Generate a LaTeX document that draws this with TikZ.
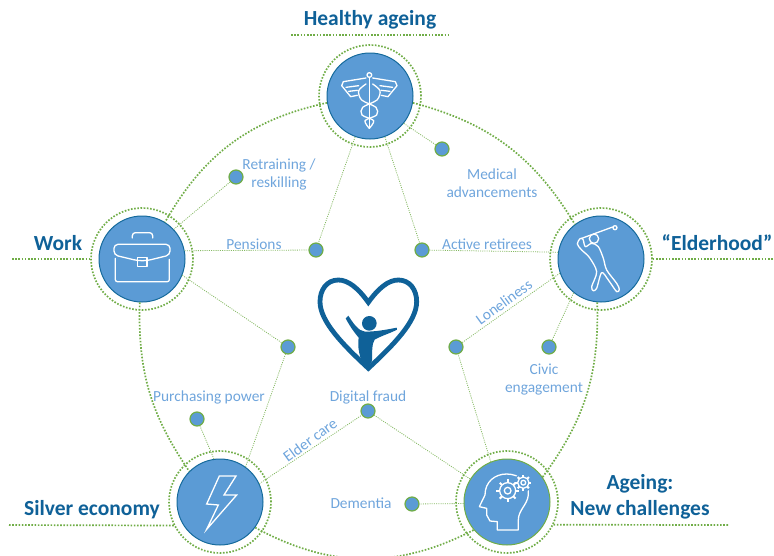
\documentclass[tikz,border=0pt]{standalone}
\usepackage{fontspec}
\setmainfont{Carlito}
\usetikzlibrary{positioning,calc}
\definecolor{hubblue}{HTML}{5B9BD5}
\definecolor{hubedge}{HTML}{156A9C}
\definecolor{leafgreen}{HTML}{70AD47}
\definecolor{paleblue}{HTML}{6FA5DC}
\definecolor{titleblue}{HTML}{0F6198}
\begin{document}
\begin{tikzpicture}[x=1pt,y=-1pt,
    hub/.style={circle,fill=hubblue,draw=hubedge,line width=1pt,minimum size=86pt,inner sep=0pt},
    ring/.style={circle,draw=leafgreen,line width=1.7pt,dash pattern=on 1.6pt off 1.6pt,minimum size=102pt,inner sep=0pt},
    dot/.style={circle,fill=hubblue,draw=leafgreen,line width=1.2pt,minimum size=14pt,inner sep=0pt},
    thinlink/.style={draw=leafgreen!85,line width=0.8pt,dash pattern=on 1pt off 1.2pt},
    arclink/.style={draw=leafgreen,line width=1.7pt,dash pattern=on 1.6pt off 1.6pt},
    topic/.style={font=\fontsize{21.5}{26}\selectfont\bfseries,text=titleblue,align=center,inner sep=0pt},
    leaf/.style={font=\fontsize{15.4}{18}\selectfont,text=paleblue,align=center,inner sep=0pt},
    icon/.style={draw=white,line width=1.3pt,line join=round,line cap=round}]
  \useasboundingbox (0,0) rectangle (774,555);%
  \clip (0,0) rectangle (774,555);%
  % hubs
  \node[hub] (health) at (370,96) {};%
  \node[hub] (work) at (142,259) {};%
  \node[hub] (elder) at (601,259) {};%
  \node[hub] (silver) at (220,502) {};%
  \node[hub,draw=leafgreen] (ageing) at (507,502) {};%
  \foreach \hubname in {health,work,elder,silver,ageing}
    \node[ring] (\hubname ring) at (\hubname) {};%
  % small dots
  \node[dot] (retrain) at (236,177) {};%
  \node[dot] (pension) at (316,250) {};%
  \node[dot] (medical) at (442,149) {};%
  \node[dot] (active) at (422,250) {};%
  \node[dot] (lonely) at (456,347) {};%
  \node[dot] (civic) at (549,347) {};%
  \node[dot] (purchase) at (288,347) {};%
  \node[dot] (power) at (197,419) {};%
  \node[dot] (fraud) at (368,411) {};%
  \node[dot] (dementia) at (412,504) {};%
  % big arcs
  \draw[arclink] (health.189) to[bend right=24] (work.58);%
  \draw[arclink] (health.-9) to[bend left=22] (elder.127);%
  \draw[arclink] (work.-93) to[bend right=18] (silver.135);%
  \draw[arclink] (elder.-95) to[bend left=19] (ageing.35);%
  \draw[arclink] (silver.-36) to[bend right=28] (ageing.220);%
  % title rules
  \coordinate (healthleft) at (291,35);%
  \coordinate (healthright) at (449,35);%
  \coordinate (worktail) at (12,259);%
  \coordinate (eldertail) at (773,259);%
  \coordinate (silvertail) at (9,525);%
  \coordinate (ageingtail) at (728,525);%
  \draw[arclink] (healthleft) -- (healthright);%
  \draw[arclink] (worktail) -- (workring.west);%
  \draw[arclink] (elderring.east) -- (eldertail);%
  \draw[arclink] (silvertail) -- (silverring.207);%
  \draw[arclink] (ageingring.-26) -- (ageingtail);%
  % thin links
  \path[thinlink] (work.43) edge (retrain)%
    (work.11) edge (pension)%
    (work.-22) edge (purchase)%
    (health.250) edge (pension)%
    (health.-70) edge (active)%
    (health.-39) edge (medical)%
    (elder.171) edge (active)%
    (elder.199) edge (lonely)%
    (elder.231) edge (civic)%
    (ageing.112) edge (lonely)%
    (ageing.148) edge (fraud)%
    (ageing.182) edge (dementia)%
    (silver.98) edge (power)%
    (silver.54) edge (purchase)%
    (silver.25) edge (fraud);%
  % texts
  \node[topic] (healthtext) at (370,20) {Healthy ageing};%
  \node[topic] (worktext) at (58,243) {Work};%
  \node[topic] (eldertext) at (717,243) {“Elderhood”};%
  \node[topic] (silvertext) at (92,510) {Silver economy};%
  \node[topic] (ageingtext) at (640,497) {Ageing:\\New challenges};%
  \node[leaf] (retraintext) at (279,174) {Retraining /\\reskilling};%
  \node[leaf] (pensiontext) at (254,244) {Pensions};%
  \node[leaf] (medicaltext) at (492,183) {Medical\\advancements};%
  \node[leaf] (activetext) at (487,244) {Active retirees};%
  \node[leaf,rotate=36] (lonelytext) at (504,302) {Loneliness};%
  \node[leaf] (civictext) at (544,380) {Civic\\engagement};%
  \node[leaf] (powertext) at (209,397) {Purchasing power};%
  \node[leaf] (fraudtext) at (368,397) {Digital fraud};%
  \node[leaf,rotate=36] (caretext) at (310,440) {Elder care};%
  \node[leaf] (dementiatext) at (361,503) {Dementia};%
  % caduceus
  \begin{scope}[shift={(280,0)},scale=1/3]
    \draw[icon] (268,225) circle (7);%
    \draw[icon] (268,232) -- (268,385);%
    \draw[icon] (258,234) -- (190,245) -- (185,257) -- (212,290) -- (232,286);%
    \draw[icon] (278,234) -- (346,245) -- (351,257) -- (324,290) -- (304,286);%
    \draw[icon] (198,262) -- (236,257) (206,274) -- (232,271);%
    \draw[icon] (338,262) -- (300,257) (330,274) -- (304,271);%
    \draw[icon] plot[smooth] coordinates {(258,252) (236,272) (245,300) (288,322) (290,345) (255,362) (268,385)};%
    \draw[icon] plot[smooth] coordinates {(278,252) (300,272) (291,300) (248,322) (246,345) (281,362) (268,385)};%
  \end{scope}
  % briefcase
  \begin{scope}[shift={(0,150)},scale=1/3]
    \draw[icon,rounded corners=4pt] (342,283) -- (510,283) -- (510,315) -- (441,332) -- (413,332) -- (342,315) -- cycle;%
    \draw[icon,rounded corners=2pt] (346,325) -- (346,395) -- (508,395) -- (508,328);%
    \draw[icon,rounded corners=3pt] (397,264) -- (397,248) -- (458,248) -- (458,264);%
    \draw[icon] (413,322) rectangle (441,350);%
  \end{scope}
  % golfer
  \begin{scope}[shift={(400,130)},scale=1/3]
    \draw[icon] (582,326) circle (14);%
    \draw[icon] (545,325) -- (638,291);%
    \draw[icon] (645,293) circle (6);%
    \draw[icon] plot[smooth cycle,tension=0.5] coordinates {(540,326) (532,342) (545,360) (568,382) (590,425) (575,470) (580,482) (590,475) (605,428) (625,450) (650,485) (658,478) (650,460) (620,420) (610,385) (595,350) (575,340) (556,350) (549,328)};%
  \end{scope}
  % lightning
  \begin{scope}[shift={(0,380)},scale=1/3]
    \draw[icon,line join=miter] (658,288) -- (708,288) -- (672,345) -- (710,345) -- (620,448) -- (655,375) -- (620,372) -- cycle;%
  \end{scope}
  % head with gears
  \begin{scope}[shift={(320,380)},scale=1/3]
    \draw[icon] (532,450) -- (532,425) -- (510,423) -- (500,405) -- (500,385) -- (478,380) -- (495,345) .. controls (495,305) and (525,282) .. (560,282) .. controls (600,282) and (628,310) .. (625,345) .. controls (622,375) and (595,390) .. (595,420) -- (595,450) -- cycle;%
    \fill[hubblue] (610,308) circle (28);%
    \fill[hubblue] (563,332) circle (36);%
    \foreach \gx/\gy/\gr in {563/332/24,610/308/17}{%
      \draw[icon] (\gx,\gy) circle (\gr);%
      \draw[icon] (\gx,\gy) circle (\gr*0.42);%
      \foreach \ga in {0,45,...,315}
        \draw[icon,line width=2pt,line cap=butt] ($(\gx,\gy)+(\ga:\gr)$) -- ($(\gx,\gy)+(\ga:\gr*1.4)$);%
    }
  \end{scope}
  % heart with figure
  \begin{scope}[shift={(300,265)},scale=1/3]
    \draw[draw=titleblue,line width=4.8pt,line join=miter] (205,112) .. controls (175,70) and (145,45) .. (115,45) .. controls (80,45) and (60,75) .. (60,110) .. controls (60,170) and (130,240) .. (205,310) .. controls (280,240) and (350,170) .. (350,110) .. controls (350,75) and (330,45) .. (295,45) .. controls (265,45) and (235,70) .. (205,112) -- cycle;%
    \fill[titleblue] (208,175) circle (22);%
    \fill[titleblue] (145,152) -- (137,160) .. controls (150,185) and (165,205) .. (176,218) .. controls (172,245) and (178,270) .. (186,292) -- (205,305) -- (216,288) .. controls (216,260) and (216,235) .. (224,224) .. controls (245,212) and (270,205) .. (291,194) -- (290,188) .. controls (255,195) and (225,200) .. (195,200) .. controls (175,198) and (160,175) .. (145,152) -- cycle;%
  \end{scope}
\end{tikzpicture}
\end{document}
